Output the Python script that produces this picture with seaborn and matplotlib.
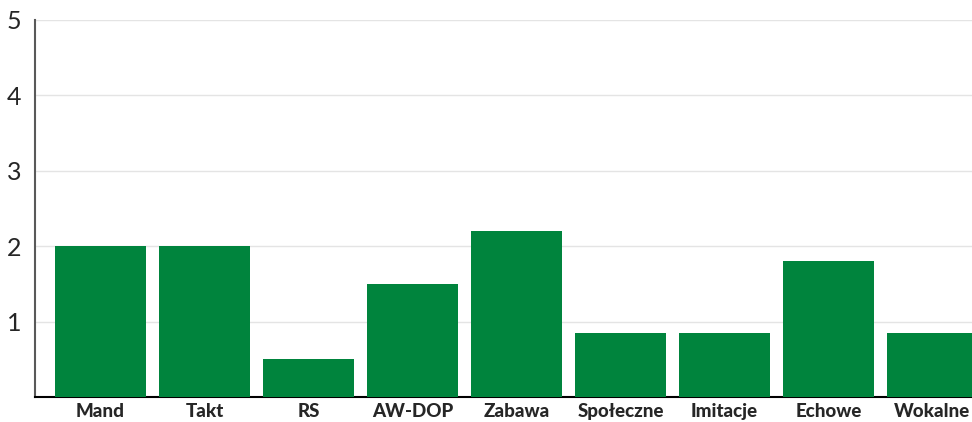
import matplotlib
matplotlib.use("Agg")
import matplotlib.pyplot as plt
import pandas as pd
import seaborn as sns

categories = ["Mand", "Takt", "RS", "AW-DOP", "Zabawa", "Społeczne", "Imitacje", "Echowe", "Wokalne"]
values = [2.0, 2.0, 0.5, 1.5, 2.2, 0.85, 0.85, 1.8, 0.85]
y_ticks = [1, 2, 3, 4, 5]

df = pd.DataFrame({"kategoria": categories, "wynik": values})

sns.set_style("white")
plt.rcParams["font.family"] = ["Lato", "DejaVu Sans"]

fig = plt.figure(figsize=(9.72, 4.22), dpi=100)
ax = fig.add_axes([0.036, 0.059, 0.964, 0.894])

sns.barplot(data=df, x="kategoria", y="wynik", color="#00843D", saturation=1,
            width=0.875, linewidth=0, ax=ax, zorder=3)

ax.set_ylim(0, 5)
ax.set_xlim(-0.63, 8.38)
ax.set_yticks(y_ticks)
ax.yaxis.grid(True, color="#e4e4e4", linewidth=1, zorder=0)
ax.set_axisbelow(True)
ax.set_xlabel("")
ax.set_ylabel("")

ax.tick_params(axis="y", length=0, pad=10, labelsize=18)
ax.tick_params(axis="x", length=0, pad=4, labelsize=13.5)
for lbl in ax.get_xticklabels():
    lbl.set_fontweight(900)

for side in ["top", "right"]:
    ax.spines[side].set_visible(False)
ax.spines["left"].set_color("#595959")
ax.spines["left"].set_linewidth(1.5)
ax.spines["bottom"].set_color("#000000")
ax.spines["bottom"].set_linewidth(1.5)

fig.savefig("out.png", dpi=100)
plt.close(fig)
